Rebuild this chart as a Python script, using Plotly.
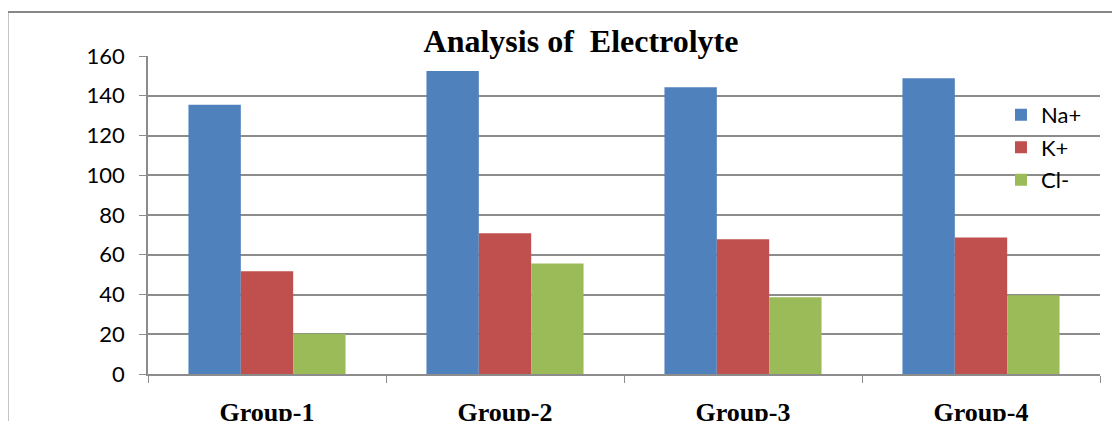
import plotly.graph_objects as go

groups = ["Group-1", "Group-2", "Group-3", "Group-4"]
na = [135.5, 152.5, 144.3, 148.8]
k = [51.7, 70.8, 67.8, 68.7]
cl = [20.2, 55.6, 38.6, 39.6]
series = [("Na+", na, "#4F81BD"), ("K+", k, "#C0504D"), ("Cl-", cl, "#9BBB59")]
yticks = [0, 20, 40, 60, 80, 100, 120, 140, 160]

W, H = 1112, 413  # page body margin of 8px shifts the figure

fig = go.Figure()
for i, (name, vals, color) in enumerate(series):
    fig.add_trace(go.Bar(x=groups, y=vals, name=name, marker_color=color,
                         marker_line_width=0, legendgroup=str(i)))

fig.update_layout(
    width=W, height=H,
    margin=dict(l=140, r=20, t=48, b=47),
    paper_bgcolor="white", plot_bgcolor="white",
    barmode="group", bargap=0.34, bargroupgap=0,
    title=dict(text="<b>Analysis of \u00a0Electrolyte</b>", x=573 / W, xanchor="center",
               y=1 - 33 / H, yanchor="middle", yref="container",
               font=dict(family="Liberation Serif", size=32, color="black")),
    legend=dict(x=0.896, y=0.881, xanchor="left", yanchor="top",
                font=dict(family="Lato", size=22, color="black"),
                bgcolor="rgba(0,0,0,0)", tracegroupgap=1),
    showlegend=True,
    shapes=[dict(type="rect", xref="paper", yref="paper", x0=-0.1476, x1=1.05,
                 y0=-0.3, y1=1.138, line=dict(color="#888888", width=2),
                 fillcolor="rgba(0,0,0,0)", layer="below")],
)
fig.update_yaxes(range=[0, 160], tickvals=yticks, showgrid=True, gridcolor="#8c8c8c",
                 gridwidth=1.5, showline=True, linecolor="#8c8c8c", linewidth=1.5,
                 ticks="outside", ticklen=7, tickcolor="#8c8c8c", zeroline=False,
                 automargin=False, ticklabelstandoff=10,
                 tickfont=dict(family="Lato", size=22, color="black"))
fig.update_xaxes(showline=True, linecolor="#8c8c8c", linewidth=1.5, ticks="outside",
                 tickson="boundaries", ticklen=7, tickcolor="#8c8c8c",
                 ticklabelstandoff=14, automargin=False,
                 tickfont=dict(family="Liberation Serif", size=26, color="black"),
                 tickprefix="<b>", ticksuffix="</b>")

fig.write_html("out.html")
